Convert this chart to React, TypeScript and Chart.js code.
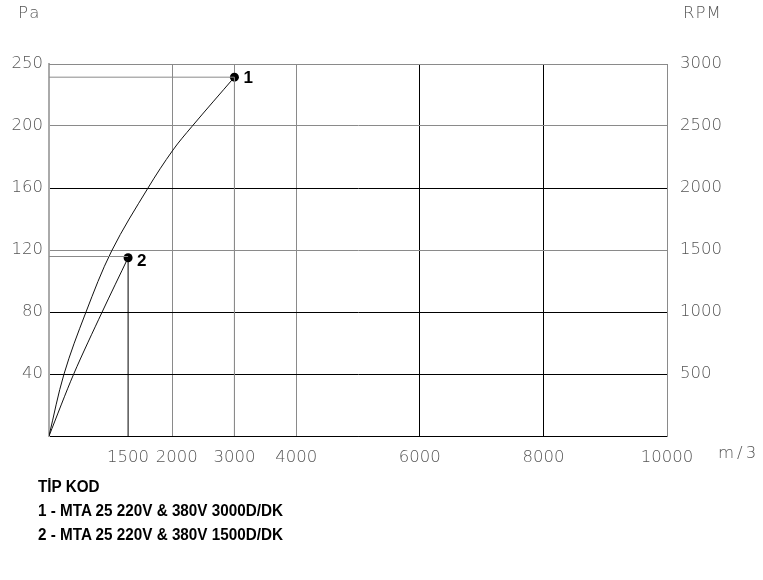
import React, { useEffect, useRef } from "react";
import { Chart, registerables } from "chart.js";

Chart.register(...registerables);

// ---- data ----
const X_TICKS = [0, 1280, 2000, 3000, 4000, 6000, 8000, 10000];
const X_TICK_LABELS = ["", "1500", "2000", "3000", "4000", "6000", "8000", "10000"];
const PA_TICKS = [0, 40, 80, 120, 160, 200, 240];
const PA_TICK_LABELS = ["", "40", "80", "120", "160", "200", "250"];
const RPM_TICKS = [0, 500, 1000, 1500, 2000, 2500, 3000];
const RPM_TICK_LABELS = ["", "500", "1000", "1500", "2000", "2500", "3000"];

const CURVE1_X = [0, 243, 594, 1015, 1602, 2006, 2309, 3000];
const CURVE1_Y = [0, 40, 79.5, 119.5, 160, 184.5, 199.5, 231.5];
const CURVE2_X = [0, 400, 860, 1280];
const CURVE2_Y = [0, 40, 80, 115];

const POINT_LABELS = ["1", "2"];
const LEGEND_TITLE = "TİP KOD";
const LEGEND_LINES = [
  "1 - MTA 25 220V & 380V 3000D/DK",
  "2 - MTA 25 220V & 380V 1500D/DK",
];

const GRAY = "#8a8a8a";
const BLACK = "#000";
const X_GRID_COLORS = ["rgba(0,0,0,0)", "rgba(0,0,0,0)", GRAY, GRAY, GRAY, BLACK, BLACK, GRAY];
const Y_GRID_COLORS = [BLACK, BLACK, BLACK, GRAY, BLACK, GRAY, GRAY];

const AXIS_FONT = { family: "'DejaVu Sans', sans-serif", size: 16.5, weight: "200" as any };
const AXIS_COLOR = "#555";

const toPts = (xs: number[], ys: number[]) => xs.map((x, i) => ({ x, y: ys[i] }));

export default function App() {
  const ref = useRef<HTMLCanvasElement>(null);

  useEffect(() => {
    if (!ref.current) return;
    const last1 = { x: CURVE1_X[CURVE1_X.length - 1], y: CURVE1_Y[CURVE1_Y.length - 1] };
    const last2 = { x: CURVE2_X[CURVE2_X.length - 1], y: CURVE2_Y[CURVE2_Y.length - 1] };

    const labelPlugin = {
      id: "pointLabels",
      afterDatasetsDraw(chart: any) {
        const { ctx, scales } = chart;
        const pts = [last1, last2];
        const dy = [1, 4];
        ctx.save();
        ctx.fillStyle = "#000";
        ctx.font = "bold 17px 'Liberation Sans', Arial, sans-serif";
        ctx.textBaseline = "middle";
        ctx.textAlign = "left";
        pts.forEach((p, i) => {
          const px = scales.x.getPixelForValue(p.x);
          const py = scales.y.getPixelForValue(p.y);
          ctx.fillText(POINT_LABELS[i], px + 9, py + dy[i]);
        });
        ctx.restore();
      },
    };

    const chart = new Chart(ref.current, {
      type: "line",
      data: {
        datasets: [
          {
            data: [{ x: 0, y: last1.y }, { x: last1.x, y: last1.y }],
            borderColor: GRAY,
            borderWidth: 1,
            pointRadius: 0,
          },
          {
            data: [{ x: 0, y: last2.y + 0.8 }, { x: last2.x, y: last2.y + 0.8 }],
            borderColor: GRAY,
            borderWidth: 1,
            pointRadius: 0,
          },
          {
            data: [{ x: last2.x, y: 0 }, { x: last2.x, y: last2.y }],
            borderColor: BLACK,
            borderWidth: 1,
            pointRadius: 0,
          },
          {
            data: [{ x: last1.x, y: 0 }, { x: last1.x, y: last1.y }],
            borderColor: GRAY,
            borderWidth: 1,
            pointRadius: 0,
          },
          {
            data: toPts(CURVE1_X, CURVE1_Y),
            borderColor: "#111",
            borderWidth: 1,
            pointRadius: 0,
            tension: 0.35,
          },
          {
            data: toPts(CURVE2_X, CURVE2_Y),
            borderColor: "#111",
            borderWidth: 1,
            pointRadius: 0,
            tension: 0.3,
          },
          {
            data: [last1, last2],
            showLine: false,
            pointRadius: 4.5,
            pointBackgroundColor: "#000",
            pointBorderColor: "#000",
            borderWidth: 0,
          },
        ],
      },
      options: {
        animation: false,
        responsive: true,
        maintainAspectRatio: false,
        layout: { padding: { top: 64, left: 0, right: 0, bottom: 0 } },
        plugins: { legend: { display: false }, tooltip: { enabled: false } },
        scales: {
          x: {
            type: "linear",
            min: 0,
            max: 10000,
            afterBuildTicks: (s: any) => {
              s.ticks = X_TICKS.map((v) => ({ value: v }));
            },
            afterFit: (s: any) => {
              s.height = 44;
            },
            ticks: {
              autoSkip: false,
              maxRotation: 0,
              padding: 12,
              color: AXIS_COLOR,
              font: AXIS_FONT,
              callback: (v: any) => {
                const i = X_TICKS.indexOf(Number(v));
                if (i < 0) return "";
                // the 2000 label sits slightly right of its grid line in the original
                return X_TICKS[i] === 2000 ? "\u2002" + X_TICK_LABELS[i] : X_TICK_LABELS[i];
              },
            },
            grid: { color: X_GRID_COLORS, lineWidth: 1, drawTicks: false },
            border: { display: true, color: BLACK, width: 1 },
          },
          y: {
            type: "linear",
            position: "left",
            min: 0,
            max: 240,
            afterBuildTicks: (s: any) => {
              s.ticks = PA_TICKS.map((v) => ({ value: v }));
            },
            afterFit: (s: any) => {
              s.width = 49;
            },
            ticks: {
              padding: 6,
              color: AXIS_COLOR,
              font: AXIS_FONT,
              callback: (v: any) => {
                const i = PA_TICKS.indexOf(Number(v));
                return i >= 0 ? PA_TICK_LABELS[i] : "";
              },
            },
            grid: { color: Y_GRID_COLORS, lineWidth: 1, drawTicks: false },
            border: { display: true, color: "#aaa", width: 2 },
          },
          rpm: {
            type: "linear",
            position: "right",
            min: 0,
            max: 3000,
            afterBuildTicks: (s: any) => {
              s.ticks = RPM_TICKS.map((v) => ({ value: v }));
            },
            afterFit: (s: any) => {
              s.width = 96;
            },
            ticks: {
              padding: 13,
              color: AXIS_COLOR,
              font: AXIS_FONT,
              callback: (v: any) => {
                const i = RPM_TICKS.indexOf(Number(v));
                return i >= 0 ? RPM_TICK_LABELS[i] : "";
              },
            },
            grid: { display: false, drawTicks: false },
            border: { display: true, color: GRAY, width: 1 },
          },
        },
      },
      plugins: [
        labelPlugin,
        {
          id: "topBorder",
          beforeDatasetsDraw(chart: any) {
            const { ctx, chartArea } = chart;
            ctx.save();
            ctx.strokeStyle = GRAY;
            ctx.lineWidth = 1;
            ctx.beginPath();
            ctx.moveTo(chartArea.left, Math.round(chartArea.top) + 0.5);
            ctx.lineTo(chartArea.right, Math.round(chartArea.top) + 0.5);
            ctx.stroke();
            ctx.restore();
          },
        },
      ],
    } as any);
    return () => chart.destroy();
  }, []);

  const axisTitle: React.CSSProperties = {
    position: "absolute",
    fontFamily: "'DejaVu Sans', sans-serif",
    fontWeight: 200,
    fontSize: 16.5,
    lineHeight: "20px",
    color: AXIS_COLOR,
    whiteSpace: "nowrap",
  };

  return (
    <div style={{ position: "absolute", left: 0, top: 0, width: 763, height: 580, background: "#fff" }}>
      <div style={{ position: "absolute", left: 0, top: 0, width: 763, height: 480 }}>
        <canvas ref={ref} />
      </div>
      <div style={{ ...axisTitle, left: 18, top: 3, letterSpacing: 2 }}>Pa</div>
      <div style={{ ...axisTitle, left: 683, top: 3, letterSpacing: 1 }}>RPM</div>
      <div style={{ ...axisTitle, left: 718, top: 443, letterSpacing: 3 }}>m/3</div>
      <div
        style={{
          position: "absolute",
          left: 38,
          top: 475,
          fontFamily: "'Liberation Sans Narrow', 'Arial Narrow', 'Liberation Sans', Arial, sans-serif",
          fontWeight: "bold",
          fontSize: 16,
          lineHeight: "24px",
          color: "#000",
          whiteSpace: "nowrap",
          transform: "scaleX(0.953)",
          transformOrigin: "left top",
        }}
      >
        <div>{LEGEND_TITLE}</div>
        {LEGEND_LINES.map((l) => (
          <div key={l}>{l}</div>
        ))}
      </div>
    </div>
  );
}
